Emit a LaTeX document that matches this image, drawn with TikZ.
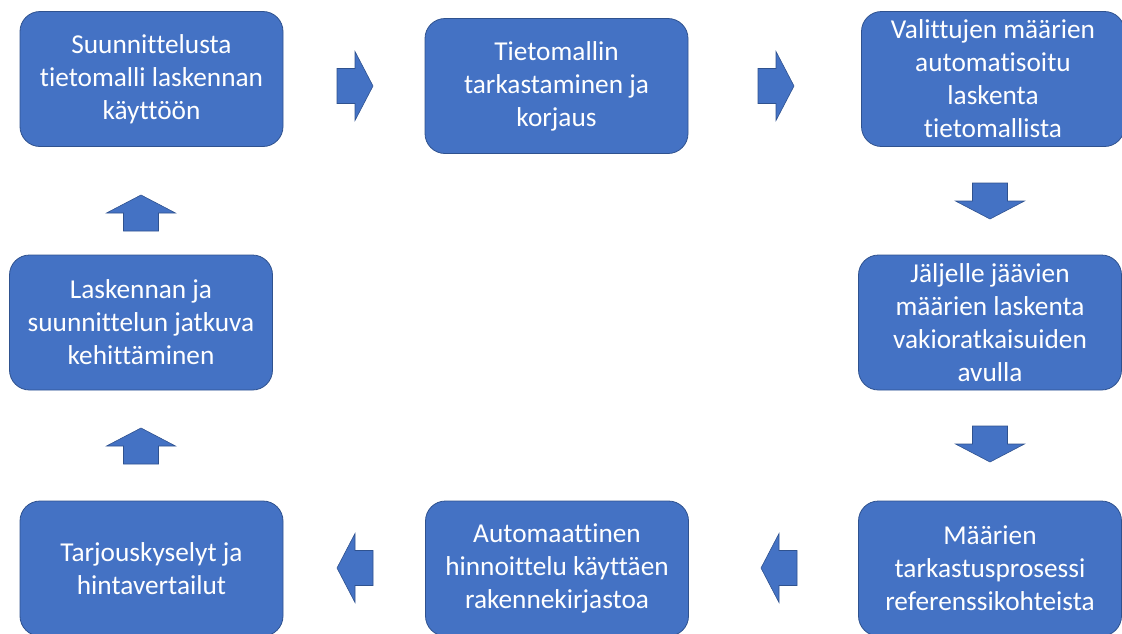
\documentclass[tikz,border=0pt]{standalone}
\usepackage{fontspec}
\setmainfont[Ligatures=NoCommon]{Carlito}
\definecolor{boxblue}{HTML}{4472C4}
\definecolor{boxedge}{HTML}{2F528F}
\begin{document}
\begin{tikzpicture}[x=1pt,y=-1pt,
  stage/.style={draw=boxedge, line width=0.8pt, fill=boxblue, rounded corners=20pt,
    minimum width=263pt, minimum height=135pt, text=white, align=center,
    font=\fontsize{27.3}{33}\selectfont, inner sep=0pt},
  arrowshape/.style={draw=boxedge, line width=0.6pt, fill=boxblue},
  blockarrow/.pic={
    \path[arrowshape] (0,-17.5) -- (18,-17.5) -- (18,-34.5) -- (36,0)
      -- (18,34.5) -- (18,17.5) -- (0,17.5) -- cycle;
  }]
\useasboundingbox (0,0) rectangle (1122,633);

% process stages, clockwise from top left
\node[stage] (s1) at (151.5,79)  {Suunnittelusta\\tietomalli laskennan\\käyttöön};
\node[stage] (s2) at (556.5,86)  {Tietomallin\\tarkastaminen ja\\korjaus};
\node[stage] (s3) at (993,79)    {Valittujen määrien\\automatisoitu\\laskenta\\tietomallista};
\node[stage] (s4) at (990,322.5) {Jäljelle jäävien\\määrien laskenta\\vakioratkaisuiden\\avulla};
\node[stage] (s5) at (990,568.5) {Määrien\\tarkastusprosessi\\referenssikohteista};
\node[stage] (s6) at (557,568.5) {Automaattinen\\hinnoittelu käyttäen\\rakennekirjastoa};
\node[stage] (s7) at (151.5,568.5) {Tarjouskyselyt ja\\hintavertailut};
\node[stage] (s8) at (141,322.5) {Laskennan ja\\suunnittelun jatkuva\\kehittäminen};

% block arrows between the stages
\pic at (337,86)  {blockarrow};
\pic at (758,86)  {blockarrow};
\pic[rotate=-90] at (990,183) {blockarrow};
\pic[rotate=-90] at (990,426) {blockarrow};
\pic[rotate=180] at (797,568) {blockarrow};
\pic[rotate=180] at (373,568) {blockarrow};
\pic[rotate=90] at (141,464) {blockarrow};
\pic[rotate=90] at (141,231) {blockarrow};
\end{tikzpicture}
\end{document}
